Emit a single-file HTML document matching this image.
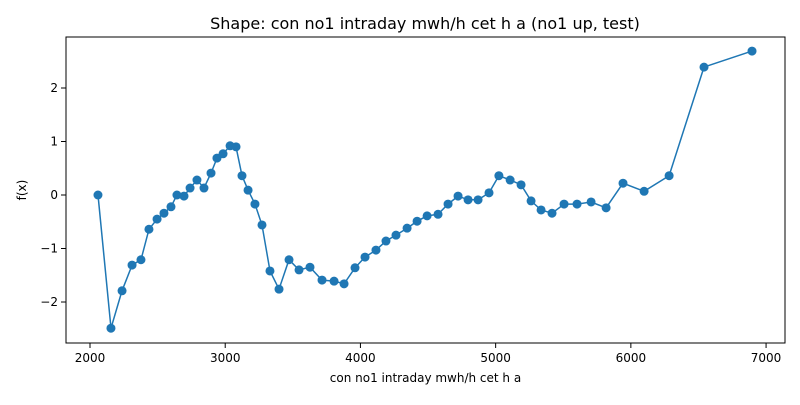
<!DOCTYPE html>
<html><head><meta charset="utf-8"><style>
body{margin:0;background:#fff;font-family:"Liberation Sans","DejaVu Sans",sans-serif}
svg text{font-family:"DejaVu Sans","Liberation Sans",sans-serif}
</style></head><body>
<svg id="chart" width="800" height="400" xmlns="http://www.w3.org/2000/svg"></svg>
<script>
const xValues=[2059,2155,2237,2311,2377,2436,2496,2547,2599,2643,2695,2740,2791,2843,2895,2939,2984,3036,3080,3124,3169,3220,3272,3331,3398,3472,3546,3627,3716,3805,3879,3960,4034,4115,4189,4263,4345,4419,4493,4574,4648,4722,4796,4870,4951,5024,5107,5188,5262,5336,5417,5506,5602,5706,5817,5942,6098,6283,6541,6896];
const yValues=[0,-2.49,-1.79,-1.31,-1.21,-0.64,-0.45,-0.34,-0.22,0.0,-0.02,0.13,0.28,0.13,0.41,0.69,0.77,0.92,0.90,0.36,0.09,-0.17,-0.56,-1.42,-1.76,-1.21,-1.40,-1.35,-1.59,-1.61,-1.66,-1.36,-1.16,-1.03,-0.86,-0.75,-0.62,-0.49,-0.39,-0.36,-0.17,-0.02,-0.09,-0.09,0.04,0.36,0.28,0.19,-0.11,-0.28,-0.34,-0.17,-0.17,-0.13,-0.24,0.22,0.07,0.36,2.39,2.69];
const xTicks=[2000,3000,4000,5000,6000,7000];
const yTicks=[-2,-1,0,1,2];
const L=66,R=785,T=37,B=343;
const xMin=1822.5,xMax=7140,yMin=-2.766,yMax=2.953;
const sx=v=>L+(v-xMin)/(xMax-xMin)*(R-L);
const sy=v=>B-(v-yMin)/(yMax-yMin)*(B-T);
const svg=document.getElementById('chart');
const NS='http://www.w3.org/2000/svg';
function mk(tag,attrs,parent){const e=document.createElementNS(NS,tag);for(const k in attrs)e.setAttribute(k,attrs[k]);(parent||svg).appendChild(e);return e;}
let t=mk('text',{x:425,y:29,'text-anchor':'middle','font-size':16,fill:'#000'});t.textContent='Shape: con no1 intraday mwh/h cet h a (no1 up, test)';


xTicks.forEach(v=>{const x=sx(v);
 const l=mk('line',{x1:x,x2:x,y1:B,y2:B+5,stroke:'#000','stroke-width':1});
 
 
 const s=mk('text',{x:x,y:B+19,'text-anchor':'middle','font-size':12});s.textContent=v;
 
 });
yTicks.forEach(v=>{const y=sy(v);
 const l=mk('line',{x1:L-5,x2:L,y1:y,y2:y,stroke:'#000','stroke-width':1});
 
 
 const s=mk('text',{x:L-8,y:y+4,'text-anchor':'end','font-size':12});s.textContent=(v<0?'\u2212'+(-v):v);
 
 });
let xl=mk('text',{x:(L+R)/2,y:382,'text-anchor':'middle','font-size':12});xl.textContent='con no1 intraday mwh/h cet h a';


let yl=mk('text',{x:26,y:(T+B)/2,'text-anchor':'middle','font-size':12,transform:`rotate(-90 26 ${(T+B)/2})`});yl.textContent='f(x)';


const pts=xValues.map((v,i)=>sx(v).toFixed(1)+','+sy(yValues[i]).toFixed(1)).join(' ');
const pl=mk('polyline',{points:pts,fill:'none',stroke:'#1f77b4','stroke-width':1.5});


xValues.forEach((v,i)=>{const c=mk('circle',{cx:sx(v),cy:sy(yValues[i]),r:4.5,fill:'#1f77b4'});
 
 });
const f=mk('rect',{x:L,y:T,width:R-L,height:B-T,fill:'none',stroke:'#000','stroke-width':1});


</script>
</body></html>
